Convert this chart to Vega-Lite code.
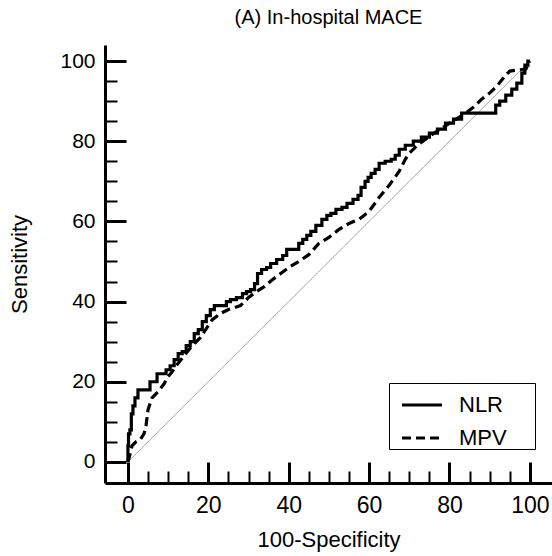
{
  "$schema": "https://vega.github.io/schema/vega-lite/v6.json",
  "width": 447,
  "height": 438,
  "autosize": "none",
  "padding": {"left": 105, "top": 45, "right": 0, "bottom": 73},
  "background": "white",
  "title": {"text": "(A) In-hospital MACE", "font": "Liberation Sans", "fontSize": 20, "fontWeight": "normal", "color": "black", "anchor": "middle", "baseline": "alphabetic", "offset": 1},
  "config": {"view": {"stroke": null}},
  "datasets": {
    "reference": [{"fpr": 0, "tpr": 0}, {"fpr": 100, "tpr": 100}],
    "nlr": [
      {"series": "NLR", "fpr": 0, "tpr": 0},
      {"series": "NLR", "fpr": 0, "tpr": 4},
      {"series": "NLR", "fpr": 0.3, "tpr": 7},
      {"series": "NLR", "fpr": 0.7, "tpr": 8},
      {"series": "NLR", "fpr": 1, "tpr": 12},
      {"series": "NLR", "fpr": 1.5, "tpr": 14},
      {"series": "NLR", "fpr": 2, "tpr": 16},
      {"series": "NLR", "fpr": 3, "tpr": 18},
      {"series": "NLR", "fpr": 5, "tpr": 18},
      {"series": "NLR", "fpr": 6, "tpr": 20},
      {"series": "NLR", "fpr": 7, "tpr": 20},
      {"series": "NLR", "fpr": 7.5, "tpr": 22},
      {"series": "NLR", "fpr": 9, "tpr": 22},
      {"series": "NLR", "fpr": 10, "tpr": 23},
      {"series": "NLR", "fpr": 11, "tpr": 24},
      {"series": "NLR", "fpr": 12, "tpr": 25.5},
      {"series": "NLR", "fpr": 13, "tpr": 27},
      {"series": "NLR", "fpr": 14, "tpr": 27.5},
      {"series": "NLR", "fpr": 15, "tpr": 29},
      {"series": "NLR", "fpr": 16, "tpr": 30},
      {"series": "NLR", "fpr": 17, "tpr": 32},
      {"series": "NLR", "fpr": 18, "tpr": 33},
      {"series": "NLR", "fpr": 19, "tpr": 35},
      {"series": "NLR", "fpr": 20, "tpr": 36.5},
      {"series": "NLR", "fpr": 21, "tpr": 38},
      {"series": "NLR", "fpr": 22, "tpr": 39},
      {"series": "NLR", "fpr": 24, "tpr": 39},
      {"series": "NLR", "fpr": 25, "tpr": 40},
      {"series": "NLR", "fpr": 26, "tpr": 40.5},
      {"series": "NLR", "fpr": 28, "tpr": 41},
      {"series": "NLR", "fpr": 29, "tpr": 42},
      {"series": "NLR", "fpr": 30, "tpr": 42.5},
      {"series": "NLR", "fpr": 31, "tpr": 43},
      {"series": "NLR", "fpr": 32, "tpr": 44.5},
      {"series": "NLR", "fpr": 32.5, "tpr": 47},
      {"series": "NLR", "fpr": 34, "tpr": 48},
      {"series": "NLR", "fpr": 35, "tpr": 48.5},
      {"series": "NLR", "fpr": 36, "tpr": 49.5},
      {"series": "NLR", "fpr": 38, "tpr": 50.5},
      {"series": "NLR", "fpr": 39, "tpr": 51.5},
      {"series": "NLR", "fpr": 40, "tpr": 53},
      {"series": "NLR", "fpr": 42, "tpr": 53},
      {"series": "NLR", "fpr": 43, "tpr": 54.5},
      {"series": "NLR", "fpr": 44, "tpr": 55.5},
      {"series": "NLR", "fpr": 45, "tpr": 56.5},
      {"series": "NLR", "fpr": 46, "tpr": 57.5},
      {"series": "NLR", "fpr": 47.5, "tpr": 59},
      {"series": "NLR", "fpr": 49, "tpr": 60.5},
      {"series": "NLR", "fpr": 50, "tpr": 61.5},
      {"series": "NLR", "fpr": 51, "tpr": 62},
      {"series": "NLR", "fpr": 52.5, "tpr": 63},
      {"series": "NLR", "fpr": 54, "tpr": 63.5},
      {"series": "NLR", "fpr": 55, "tpr": 64.5},
      {"series": "NLR", "fpr": 57, "tpr": 65.5},
      {"series": "NLR", "fpr": 57.5, "tpr": 66.5},
      {"series": "NLR", "fpr": 58.5, "tpr": 68.5},
      {"series": "NLR", "fpr": 59.5, "tpr": 70},
      {"series": "NLR", "fpr": 60, "tpr": 71},
      {"series": "NLR", "fpr": 61, "tpr": 72},
      {"series": "NLR", "fpr": 62, "tpr": 73},
      {"series": "NLR", "fpr": 63, "tpr": 74.5},
      {"series": "NLR", "fpr": 65, "tpr": 75},
      {"series": "NLR", "fpr": 66, "tpr": 75.5},
      {"series": "NLR", "fpr": 67, "tpr": 76.5},
      {"series": "NLR", "fpr": 68, "tpr": 78},
      {"series": "NLR", "fpr": 70, "tpr": 79},
      {"series": "NLR", "fpr": 72, "tpr": 80},
      {"series": "NLR", "fpr": 74, "tpr": 81},
      {"series": "NLR", "fpr": 76, "tpr": 82},
      {"series": "NLR", "fpr": 78, "tpr": 83},
      {"series": "NLR", "fpr": 80, "tpr": 84.5},
      {"series": "NLR", "fpr": 82, "tpr": 85.5},
      {"series": "NLR", "fpr": 84, "tpr": 87},
      {"series": "NLR", "fpr": 91, "tpr": 87},
      {"series": "NLR", "fpr": 92, "tpr": 89},
      {"series": "NLR", "fpr": 93, "tpr": 90},
      {"series": "NLR", "fpr": 95, "tpr": 91.5},
      {"series": "NLR", "fpr": 96, "tpr": 93},
      {"series": "NLR", "fpr": 97.5, "tpr": 94.5},
      {"series": "NLR", "fpr": 98.5, "tpr": 97},
      {"series": "NLR", "fpr": 99, "tpr": 99},
      {"series": "NLR", "fpr": 100, "tpr": 100}
    ],
    "mpv": [
      {"series": "MPV", "fpr": 0, "tpr": 0},
      {"series": "MPV", "fpr": 0.3, "tpr": 1},
      {"series": "MPV", "fpr": 1, "tpr": 4},
      {"series": "MPV", "fpr": 2, "tpr": 5},
      {"series": "MPV", "fpr": 3, "tpr": 5.5},
      {"series": "MPV", "fpr": 4, "tpr": 7},
      {"series": "MPV", "fpr": 4.5, "tpr": 9},
      {"series": "MPV", "fpr": 5, "tpr": 13},
      {"series": "MPV", "fpr": 6, "tpr": 16},
      {"series": "MPV", "fpr": 7.5, "tpr": 17.5},
      {"series": "MPV", "fpr": 9, "tpr": 19.5},
      {"series": "MPV", "fpr": 10, "tpr": 21.3},
      {"series": "MPV", "fpr": 11, "tpr": 22.5},
      {"series": "MPV", "fpr": 12, "tpr": 24},
      {"series": "MPV", "fpr": 14, "tpr": 26.5},
      {"series": "MPV", "fpr": 16, "tpr": 29},
      {"series": "MPV", "fpr": 18, "tpr": 31},
      {"series": "MPV", "fpr": 20, "tpr": 34},
      {"series": "MPV", "fpr": 21, "tpr": 35.5},
      {"series": "MPV", "fpr": 23, "tpr": 37},
      {"series": "MPV", "fpr": 25, "tpr": 38},
      {"series": "MPV", "fpr": 28, "tpr": 39},
      {"series": "MPV", "fpr": 30, "tpr": 41},
      {"series": "MPV", "fpr": 32, "tpr": 42.5},
      {"series": "MPV", "fpr": 34, "tpr": 43.8},
      {"series": "MPV", "fpr": 36, "tpr": 45.5},
      {"series": "MPV", "fpr": 38, "tpr": 47},
      {"series": "MPV", "fpr": 40, "tpr": 48.5},
      {"series": "MPV", "fpr": 42.5, "tpr": 50},
      {"series": "MPV", "fpr": 45, "tpr": 51.7},
      {"series": "MPV", "fpr": 47.5, "tpr": 54.5},
      {"series": "MPV", "fpr": 50, "tpr": 56},
      {"series": "MPV", "fpr": 52.5, "tpr": 58},
      {"series": "MPV", "fpr": 55, "tpr": 59.5},
      {"series": "MPV", "fpr": 57.5, "tpr": 60.5},
      {"series": "MPV", "fpr": 60, "tpr": 62.5},
      {"series": "MPV", "fpr": 62.5, "tpr": 66},
      {"series": "MPV", "fpr": 65, "tpr": 69},
      {"series": "MPV", "fpr": 67.5, "tpr": 72.5},
      {"series": "MPV", "fpr": 69, "tpr": 75.5},
      {"series": "MPV", "fpr": 70, "tpr": 77},
      {"series": "MPV", "fpr": 72, "tpr": 79},
      {"series": "MPV", "fpr": 75.7, "tpr": 81.7},
      {"series": "MPV", "fpr": 80, "tpr": 84.5},
      {"series": "MPV", "fpr": 84, "tpr": 87},
      {"series": "MPV", "fpr": 86, "tpr": 88.5},
      {"series": "MPV", "fpr": 88, "tpr": 90.5},
      {"series": "MPV", "fpr": 90, "tpr": 92},
      {"series": "MPV", "fpr": 92, "tpr": 94},
      {"series": "MPV", "fpr": 94, "tpr": 96.5},
      {"series": "MPV", "fpr": 95, "tpr": 97.5},
      {"series": "MPV", "fpr": 99, "tpr": 98},
      {"series": "MPV", "fpr": 100, "tpr": 100}
    ]
  },
  "encoding": {
    "x": {
      "field": "fpr", "type": "quantitative",
      "scale": {"domain": [-5.7, 105.5], "nice": false, "zero": false},
      "axis": {
        "title": "100-Specificity", "titleFont": "Liberation Sans", "titleFontSize": 22, "titleFontWeight": "normal", "titleColor": "black", "titlePadding": 3,
        "values": [0, 5, 10, 15, 20, 25, 30, 35, 40, 45, 50, 55, 60, 65, 70, 75, 80, 85, 90, 95, 100],
        "labelExpr": "datum.value % 20 === 0 ? datum.label : ''",
        "labelFont": "Liberation Sans", "labelFontSize": 23, "labelColor": "black", "labelPadding": 32,
        "tickSize": {"condition": {"test": "datum.value % 20 === 0", "value": -21}, "value": -12},
        "tickWidth": {"condition": {"test": "datum.value % 20 === 0", "value": 3}, "value": 2},
        "tickColor": "black", "domainColor": "black", "domainWidth": 3, "grid": false, "labelFlush": false, "labelOverlap": false
      }
    },
    "y": {
      "field": "tpr", "type": "quantitative",
      "scale": {"domain": [-5.25, 104], "nice": false, "zero": false},
      "axis": {
        "title": "Sensitivity", "titleFont": "Liberation Sans", "titleFontSize": 22, "titleFontWeight": "normal", "titleColor": "black", "titlePadding": 28,
        "values": [0, 5, 10, 15, 20, 25, 30, 35, 40, 45, 50, 55, 60, 65, 70, 75, 80, 85, 90, 95, 100],
        "labelExpr": "datum.value % 20 === 0 ? datum.label : ''",
        "labelFont": "Liberation Sans", "labelFontSize": 21, "labelColor": "black", "labelPadding": 31,
        "tickSize": {"condition": {"test": "datum.value % 20 === 0", "value": -21}, "value": -12},
        "tickWidth": {"condition": {"test": "datum.value % 20 === 0", "value": 3}, "value": 2},
        "tickColor": "black", "domainColor": "black", "domainWidth": 3, "grid": false, "labelFlush": false, "labelOverlap": false
      }
    },
    "strokeDash": {
      "field": "series", "type": "nominal",
      "scale": {"domain": ["NLR", "MPV"], "range": [[1, 0], [9, 5]]},
      "legend": {
        "title": "\u00a0", "titleOrient": "right", "titleFontSize": 1, "titlePadding": 28,
        "orient": "none", "legendX": 284, "legendY": 338,
        "strokeColor": "black", "padding": 0, "cornerRadius": 0,
        "symbolType": "stroke", "symbolSize": 1600, "symbolStrokeWidth": 3.2, "symbolStrokeColor": "black", "symbolOffset": 11,
        "labelFont": "Liberation Sans", "labelFontSize": 22, "labelColor": "black", "labelOffset": 15,
        "rowPadding": -11
      }
    }
  },
  "layer": [
    {
      "data": {"name": "reference"},
      "mark": {"type": "line", "color": "#9a9a9a", "strokeWidth": 1},
      "encoding": {"strokeDash": {"value": [1, 0]}}
    },
    {
      "data": {"name": "mpv"},
      "mark": {"type": "line", "color": "black", "strokeWidth": 3.2, "strokeJoin": "miter"},
      "encoding": {"order": {"field": "fpr"}}
    },
    {
      "data": {"name": "nlr"},
      "mark": {"type": "line", "color": "black", "strokeWidth": 3.2, "strokeJoin": "miter", "interpolate": "step"},
      "encoding": {"order": {"field": "fpr"}}
    }
  ]
}
